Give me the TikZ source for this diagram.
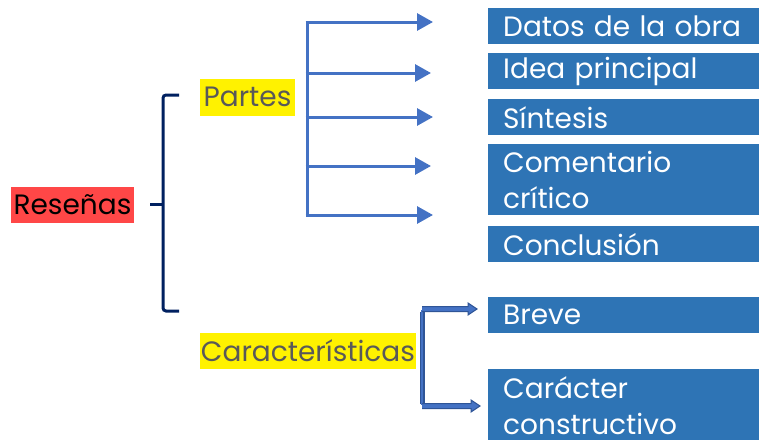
\documentclass[tikz,border=0pt]{standalone}
\usepackage{fontspec}
\setmainfont{Poppins}
\usetikzlibrary{arrows.meta}
\definecolor{boxblue}{HTML}{2E74B5}
\definecolor{arrblue}{HTML}{4472C4}
\definecolor{arrdark}{HTML}{2F5597}
\definecolor{navy}{HTML}{002060}
\definecolor{redbg}{HTML}{FF4747}
\definecolor{grayt}{HTML}{595959}
\tikzset{
  item/.style={fill=boxblue, text=white, anchor=north west, minimum width=271pt,
    text width=271pt, inner xsep=0pt, inner ysep=0pt, align=left, font=\fontsize{28}{36}\selectfont},
  hl/.style={fill=yellow, text=grayt, inner sep=0pt, font=\fontsize{28}{36}\selectfont},
  arr/.style={arrblue, line width=3pt, -{Triangle[length=16pt,width=17pt]}},
  trunk/.style={arrblue, line width=3pt},
  brace/.style={navy, line width=3pt},
}
\begin{document}
\begin{tikzpicture}[x=1pt,y=-1pt]
\useasboundingbox (0,0) rectangle (759,439);
% items
\node[item, minimum height=36pt] (d1) at (488,8) {\hspace*{15pt}Datos de la obra};
\node[item, minimum height=36pt] (d2) at (488,53) {\hspace*{15pt}Idea principal};
\node[item, minimum height=36pt] (d3) at (488,99) {\hspace*{15pt}Síntesis};
\node[item, minimum height=71pt] (d4) at (488,144) {\hspace*{15pt}Comentario\\\hspace*{15pt}crítico};
\node[item, minimum height=36pt] (d5) at (488,226) {\hspace*{15pt}Conclusión};
\node[item, minimum height=36pt] (c1) at (488,297) {\hspace*{15pt}Breve};
\node[item, minimum height=72pt] (c2) at (488,369) {\hspace*{15pt}Carácter\\\hspace*{15pt}constructivo};
% labels
\node[fill=redbg, text=black, inner sep=0pt, minimum width=123pt, minimum height=36pt,
  font=\fontsize{28}{36}\selectfont] (res) at (72.5,205) {Reseñas};
\node[hl, minimum width=95pt, minimum height=37pt] (par) at (247.5,97) {Partes};
\node[hl, minimum width=216pt, minimum height=36pt] (car) at (308,351) {Características};
% brace
\coordinate (bt) at (179,95);
\coordinate (bb) at (179,311);
\coordinate (bm) at (150,204);
\draw[brace, rounded corners=3pt] (bt) -- (163,95) -- (163,311) -- (bb);
\draw[brace] (bm) -- (164,204);
% partes arrows
\coordinate (p1) at (307,22);
\coordinate (p2) at (307,73);
\coordinate (p3) at (307,117);
\coordinate (p4) at (307,166);
\coordinate (p5) at (307,215);
\coordinate (e1) at (433,22);
\coordinate (e2) at (431,73);
\coordinate (e3) at (433,117);
\coordinate (e4) at (431,166);
\coordinate (e5) at (433,215);
\draw[trunk] ([yshift=-1.5pt]p1) -- ([yshift=1.5pt]p5);
\foreach \i in {1,...,5} \draw[arr] ([xshift=-1.5pt]p\i) -- (e\i);
% caracteristicas arrows
\coordinate (q1) at (422,309);
\coordinate (q2) at (422,406);
\coordinate (f1) at (477,309);
\coordinate (f2) at (480,406);
\draw[arrdark, line width=5pt] ([yshift=-2.5pt]q1) -- ([yshift=2.5pt]q2);
\draw[arrblue, line width=2.5pt] ([yshift=-1.25pt]q1) -- ([yshift=1.25pt]q2);
\foreach \i in {1,2} {
  \draw[arrdark, line width=1pt, fill=arrblue] ([yshift=-2.5pt]q\i) -- ([xshift=-9pt,yshift=-2.5pt]f\i) -- ([xshift=-9pt,yshift=-6pt]f\i) -- (f\i) -- ([xshift=-9pt,yshift=6pt]f\i) -- ([xshift=-9pt,yshift=2.5pt]f\i) -- ([yshift=2.5pt]q\i);
}
\end{tikzpicture}
\end{document}
